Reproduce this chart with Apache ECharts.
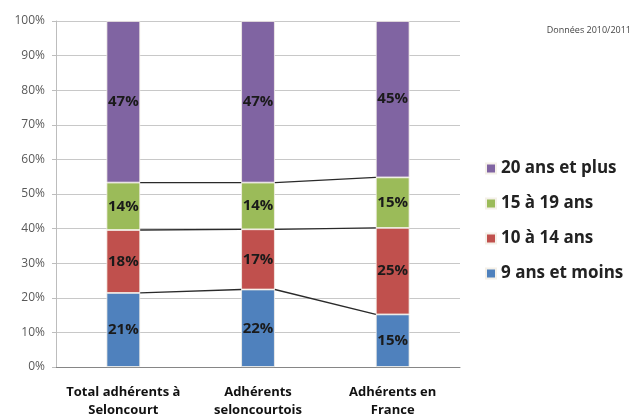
<!DOCTYPE html>
<html>
<head>
<meta charset="utf-8">
<script src="https://cdn.jsdelivr.net/npm/echarts@6/dist/echarts.min.js"></script>
<style>html,body{margin:0;padding:0;background:#fff;}#c{width:636px;height:419px;}</style>
</head>
<body>
<div id="c"></div>
<script>
var categories = ['Total adhérents à\nSeloncourt', 'Adhérents\nseloncourtois', 'Adhérents en\nFrance'];
var seriesNames = ['9 ans et moins', '10 à 14 ans', '15 à 19 ans', '20 ans et plus'];
var age9 = [21.4, 22.4, 15.2];
var age10 = [18.2, 17.4, 25.0];
var age15 = [13.7, 13.5, 14.6];
var age20 = [46.7, 46.7, 45.2];
var colors = ['#4F81BD', '#C0504D', '#9BBB59', '#8064A2'];
var yTicks = [0, 10, 20, 30, 40, 50, 60, 70, 80, 90, 100];

var values = [age9, age10, age15, age20];
var font = '"Open Sans", Lato, sans-serif';

var series = values.map(function (v, k) {
  return {
    name: seriesNames[k],
    type: 'bar',
    stack: 'total',
    barWidth: '25%',
    data: v,
    itemStyle: { color: colors[k], borderColor: '#f4f0e8', borderWidth: 0.8 },
    label: {
      show: true, position: 'inside',
      formatter: function (p) { return Math.round(p.value) + '%'; },
      fontFamily: font, fontWeight: 'bold', fontSize: 15, color: '#1a1a1a'
    },
    z: 3
  };
});

// series lines connecting segment tops
var lineData = [];
for (var k = 0; k < 3; k++) {
  for (var i = 0; i < categories.length - 1; i++) {
    var c1 = 0, c2 = 0;
    for (var j = 0; j <= k; j++) { c1 += values[j][i]; c2 += values[j][i + 1]; }
    lineData.push([i, c1, c2]);
  }
}
series.push({
  type: 'custom',
  name: 'seriesLines',
  data: lineData,
  encode: { x: 0, y: 1 },
  silent: true,
  z: 4,
  renderItem: function (params, api) {
    var i = api.value(0);
    var p1 = api.coord([i, api.value(1)]);
    var p2 = api.coord([i + 1, api.value(2)]);
    var bw = api.size([1, 0])[0] * 0.25;
    return {
      type: 'line',
      shape: { x1: p1[0] + bw / 2, y1: p1[1], x2: p2[0] - bw / 2, y2: p2[1] },
      style: { stroke: '#2a2a2a', lineWidth: 1.3 }
    };
  }
});

var chart = echarts.init(document.getElementById('c'), null, { renderer: 'canvas' });
chart.setOption({
  animation: false,
  backgroundColor: '#fff',
  title: {
    text: 'Données 2010/2011', right: 0, top: 21,
    textStyle: { fontFamily: font, fontSize: 9, fontWeight: 'normal', color: '#444' }
  },
  grid: { left: 56, right: 176, top: 21, bottom: 52 },
  legend: {
    orient: 'vertical', left: 480, top: 155,
    data: seriesNames.slice().reverse(),
    itemWidth: 10, itemHeight: 10, itemGap: 18,
    icon: 'rect',
    textStyle: { fontFamily: font, fontSize: 17, fontWeight: 'bold', color: '#222' }
  },
  xAxis: {
    type: 'category',
    data: categories,
    axisLine: { lineStyle: { color: '#868686' } },
    axisTick: { show: false },
    axisLabel: {
      interval: 0, margin: 16, lineHeight: 18,
      fontFamily: font, fontSize: 13, fontWeight: 'bold', color: '#111'
    }
  },
  yAxis: {
    type: 'value', min: 0, max: 100, interval: 10,
    axisLine: { show: true, lineStyle: { color: '#bdbdbd' } },
    axisTick: { show: true, inside: false, length: 4, lineStyle: { color: '#bdbdbd' } },
    splitLine: { lineStyle: { color: '#c8c8c8' } },
    axisLabel: {
      margin: 11,
      formatter: function (v) { return yTicks.indexOf(v) >= 0 ? v + '%' : ''; },
      fontFamily: font, fontSize: 12, color: '#595959'
    }
  },
  series: series
});
</script>
</body>
</html>
